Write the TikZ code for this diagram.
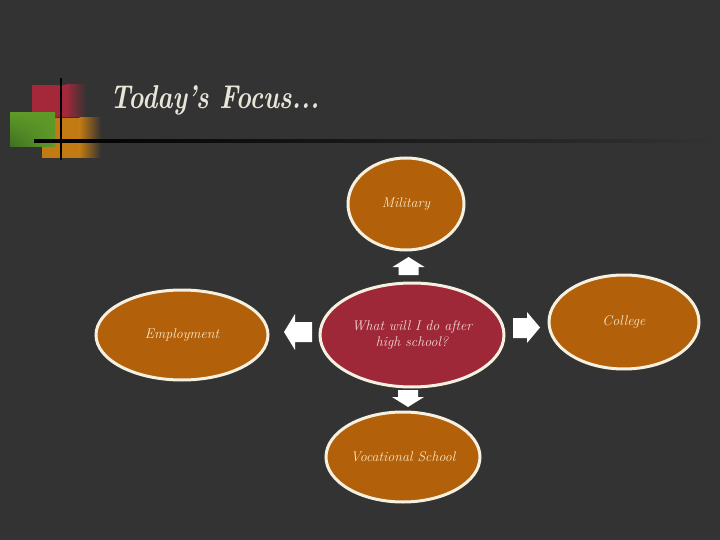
\documentclass[tikz,border=0pt]{standalone}
\usetikzlibrary{shapes.geometric,shadings}
\definecolor{bg}{HTML}{333333}
\definecolor{sqred}{HTML}{A5283A}
\definecolor{sqorange}{HTML}{C27A12}
\definecolor{sqgreen}{HTML}{5E9A28}
\definecolor{sqgreendark}{HTML}{3F6E22}
\definecolor{ovorange}{HTML}{B3600A}
\definecolor{ovred}{HTML}{9E2838}
\definecolor{cream}{HTML}{F6F0E0}
\definecolor{titlecol}{HTML}{E9E5D9}
\definecolor{txtcream}{HTML}{F7E8C6}
\definecolor{txtpink}{HTML}{F5D6D2}
\tikzset{
  oval/.style={ellipse, draw=cream, line width=3pt, fill=ovorange, text=txtcream,
    font=\fontsize{14}{16}\selectfont\itshape, align=center, inner sep=0pt},
  blockarrow/.style={fill=white, draw=none}
}
\begin{document}
\begin{tikzpicture}[x=1pt,y=-1pt]
\fill[bg] (0,0) rectangle (720,540);
\useasboundingbox (0,0) rectangle (720,540);
% decoration squares
\fill[sqred] (32,85) rectangle (66,117);
\shade[left color=sqred,right color=bg] (65.5,85) rectangle (86,117);
\fill[sqorange] (42,118) rectangle (80,158);
\shade[left color=sqorange,right color=bg] (79.5,118) rectangle (101,158);
\shade[lower left=sqgreendark,upper right=sqgreen,lower right=sqgreen,upper left=sqgreen] (10,113) rectangle (55,147);
\draw[black,line width=2.5pt] (61,78) -- (61,160);
\shade[left color=black,right color=bg] (34,140) rectangle (720,142.2);
% title
\node[text=titlecol,anchor=west,inner sep=0pt,font=\fontsize{33}{36}\selectfont\itshape\bfseries] (title) at (110,100) {\scalebox{0.78}[1]{Today's Focus...}};
% ovals
\node[oval,minimum width=116pt,minimum height=92pt] (mil) at (406,204) {Military};
\node[oval,fill=ovred,text=txtpink,minimum width=184pt,minimum height=104pt] (ctr) at (412,335) {What will I do after\\high school?};
\node[oval,minimum width=172pt,minimum height=90pt] (emp) at (182,335) {Employment};
\node[oval,minimum width=150pt,minimum height=94pt] (col) at (624,322) {College};
\node[oval,minimum width=154pt,minimum height=90pt] (voc) at (403,457) {Vocational School};
% block arrows
\fill[blockarrow] (408.5,257) -- (424.5,267) -- (418.5,267) -- (418.5,275) -- (398.5,275) -- (398.5,267) -- (392.5,267) -- cycle;
\fill[blockarrow] (408,407) -- (424,397) -- (418,397) -- (418,390) -- (398,390) -- (398,397) -- (392,397) -- cycle;
\fill[blockarrow] (284,332) -- (295,314) -- (295,322) -- (312,322) -- (312,342) -- (295,342) -- (295,350) -- cycle;
\fill[blockarrow] (540,327.5) -- (527,312) -- (527,318) -- (513,318) -- (513,338) -- (527,338) -- (527,343) -- cycle;
\end{tikzpicture}
\end{document}
